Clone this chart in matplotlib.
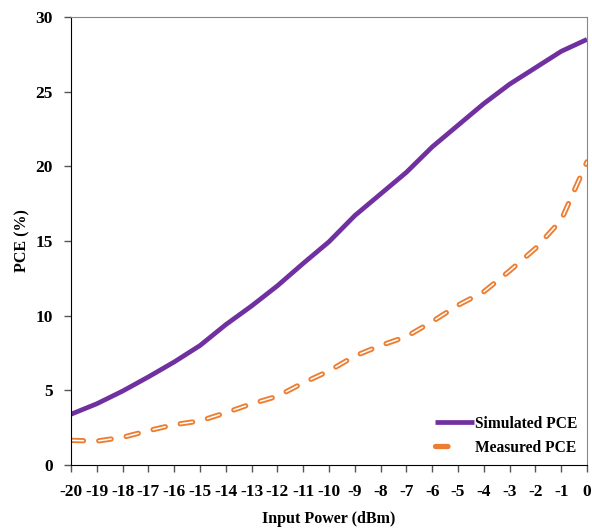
import matplotlib
matplotlib.use("Agg")
import matplotlib.pyplot as plt
from matplotlib.legend_handler import HandlerTuple

plt.rcParams['font.family'] = ['Liberation Serif', 'DejaVu Serif']
plt.rcParams['font.weight'] = 'bold'
plt.rcParams['lines.scale_dashes'] = False

power = [-20, -19, -18, -17, -16, -15, -14, -13, -12, -11, -10,
         -9, -8, -7, -6, -5, -4, -3, -2, -1, 0]
simulated = [3.4, 4.1, 4.95, 5.9, 6.9, 8.0, 9.4, 10.65, 12.0, 13.5, 14.95,
             16.7, 18.15, 19.6, 21.3, 22.75, 24.2, 25.5, 26.6, 27.7, 28.5]
measured = [1.65, 1.6, 1.85, 2.3, 2.7, 2.95, 3.5, 4.1, 4.6, 5.5, 6.3,
            7.3, 8.0, 8.6, 9.6, 10.7, 11.6, 13.0, 14.5, 16.4, 20.3]

purple = '#7030A0'
orange = '#ED7D31'
fs_tick = 12.5
fs_lab = 11.5
fs_leg = 11.2

fig = plt.figure(figsize=(5.92, 5.28), dpi=100)
ax = fig.add_axes([71/592, 1-465/528, (587-71)/592, (465-17)/528])

l1, = ax.plot(power, simulated, color=purple, lw=3.4, solid_capstyle='butt')
dash = (0, (9, 11))
l2, = ax.plot(power, measured, color=orange, lw=3.8, linestyle=dash, dash_capstyle='round')
l3, = ax.plot(power, measured, color='white', lw=1.1, linestyle=dash, dash_capstyle='round')

ax.set_xlim(-20, 0)
ax.set_ylim(0, 30)
ax.set_xticks(power)
ax.set_xticklabels([str(p) for p in power])
ax.set_yticks([0, 5, 10, 15, 20, 25, 30])
ax.tick_params(direction='out', length=5, width=1, labelsize=fs_tick, color='#555555')
ax.tick_params(axis='x', pad=9)
ax.tick_params(axis='y', pad=8)
for lab in ax.get_xticklabels() + ax.get_yticklabels():
    lab.set_fontweight('bold')

ax.spines['left'].set_color('black')
ax.spines['bottom'].set_color('black')
ax.spines['top'].set_color('#888888')
ax.spines['right'].set_color('#888888')

ax.set_xlabel('Input Power (dBm)', fontsize=fs_lab, fontweight='bold', va='center')
ax.set_ylabel('PCE (%)', fontsize=fs_lab, fontweight='bold', va='center')
ax.xaxis.set_label_coords(0.5, (465-519)/448)
ax.yaxis.set_label_coords((22-71)/516, 0.5)

leg = ax.legend([l1, (l2, l3)], ['Simulated PCE', 'Measured PCE'],
                handler_map={tuple: HandlerTuple(ndivide=None, pad=0)},
                loc='lower right', frameon=False, fontsize=fs_leg,
                handlelength=2.5, handletextpad=0.1, borderaxespad=0.2,
                labelspacing=0.5)
for t in leg.get_texts():
    t.set_fontweight('bold')

fig.savefig('out.png', dpi=100)
